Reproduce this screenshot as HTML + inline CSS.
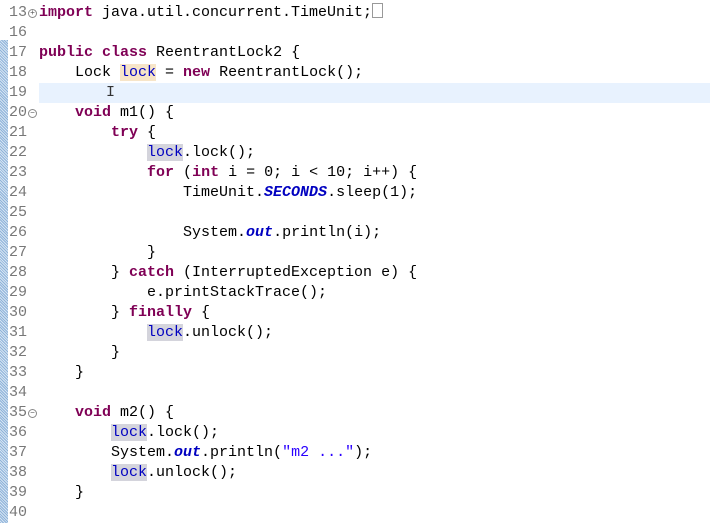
<!DOCTYPE html>
<html><head><style>
body{margin:0;width:710px;height:523px;background:#fff;overflow:hidden;position:relative;font-family:"Liberation Mono",monospace;font-size:15px;}
.bar{position:absolute;left:0;top:40px;width:8px;height:483px;background:repeating-linear-gradient(45deg,#8fb3d9 0 1px,#d5e4f3 1px 2px);}
.row{position:absolute;left:0;height:20px;line-height:20px;white-space:pre;width:710px;}
.n{position:absolute;left:9px;color:#787878;}
.c{position:absolute;left:39px;color:#000;}
.k{color:#7f0055;font-weight:bold}
.f{color:#0000c0;font-weight:bold;font-style:italic}
.v{color:#0000c0}
.h{background:#d4d4dc}
.w{background:#f7e5c8}
.cur{background:#e8f2fe;position:absolute;left:39px;right:0;top:0;bottom:0}
.fold{position:absolute;left:28px;top:6px;width:7px;height:7px;border:1px solid #888;border-radius:50%;font-size:8px;line-height:7px;text-align:center;color:#555}
</style></head><body>
<div class="bar"></div>
<div class="row" style="top:3px"><span class="n">13</span><span class="fold">+</span><span class="c"><span class="k">import</span> java.util.concurrent.TimeUnit;<span style="display:inline-block;width:9px;height:13px;border:1px solid #999;vertical-align:-2px"></span></span></div>
<div class="row" style="top:23px"><span class="n">16</span></div>
<div class="row" style="top:43px"><span class="n">17</span><span class="c"><span class="k">public</span> <span class="k">class</span> ReentrantLock2 {</span></div>
<div class="row" style="top:63px"><span class="n">18</span><span class="c">    Lock <span class="v w">lock</span> = <span class="k">new</span> ReentrantLock();</span></div>
<div class="row" style="top:83px"><div class="cur"></div><span class="n">19</span><span class="c" style="left:106px;color:#333">I</span></div>
<div class="row" style="top:103px"><span class="n">20</span><span class="fold">−</span><span class="c">    <span class="k">void</span> m1() {</span></div>
<div class="row" style="top:123px"><span class="n">21</span><span class="c">        <span class="k">try</span> {</span></div>
<div class="row" style="top:143px"><span class="n">22</span><span class="c">            <span class="v h">lock</span>.lock();</span></div>
<div class="row" style="top:163px"><span class="n">23</span><span class="c">            <span class="k">for</span> (<span class="k">int</span> i = 0; i &lt; 10; i++) {</span></div>
<div class="row" style="top:183px"><span class="n">24</span><span class="c">                TimeUnit.<span class="f">SECONDS</span>.sleep(1);</span></div>
<div class="row" style="top:203px"><span class="n">25</span></div>
<div class="row" style="top:223px"><span class="n">26</span><span class="c">                System.<span class="f">out</span>.println(i);</span></div>
<div class="row" style="top:243px"><span class="n">27</span><span class="c">            }</span></div>
<div class="row" style="top:263px"><span class="n">28</span><span class="c">        } <span class="k">catch</span> (InterruptedException e) {</span></div>
<div class="row" style="top:283px"><span class="n">29</span><span class="c">            e.printStackTrace();</span></div>
<div class="row" style="top:303px"><span class="n">30</span><span class="c">        } <span class="k">finally</span> {</span></div>
<div class="row" style="top:323px"><span class="n">31</span><span class="c">            <span class="v h">lock</span>.unlock();</span></div>
<div class="row" style="top:343px"><span class="n">32</span><span class="c">        }</span></div>
<div class="row" style="top:363px"><span class="n">33</span><span class="c">    }</span></div>
<div class="row" style="top:383px"><span class="n">34</span></div>
<div class="row" style="top:403px"><span class="n">35</span><span class="fold">−</span><span class="c">    <span class="k">void</span> m2() {</span></div>
<div class="row" style="top:423px"><span class="n">36</span><span class="c">        <span class="v h">lock</span>.lock();</span></div>
<div class="row" style="top:443px"><span class="n">37</span><span class="c">        System.<span class="f">out</span>.println(<span style="color:#2a00ff">"m2 ..."</span>);</span></div>
<div class="row" style="top:463px"><span class="n">38</span><span class="c">        <span class="v h">lock</span>.unlock();</span></div>
<div class="row" style="top:483px"><span class="n">39</span><span class="c">    }</span></div>
<div class="row" style="top:503px"><span class="n">40</span></div>
</body></html>
